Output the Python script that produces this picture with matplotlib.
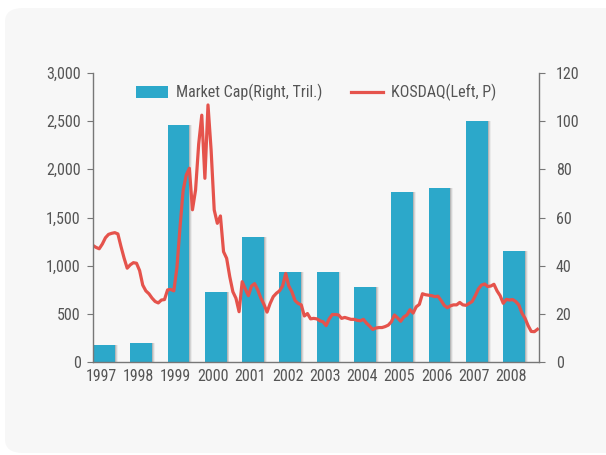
import numpy as np
import matplotlib.pyplot as plt
from matplotlib.patches import FancyBboxPatch
from matplotlib.ticker import FuncFormatter
from matplotlib import font_manager

years = ["1997", "1998", "1999", "2000", "2001", "2002",
         "2003", "2004", "2005", "2006", "2007", "2008"]
# year-end market cap, trillion won (right axis)
market_cap = [7.0, 7.9, 98.5, 29.0, 51.8, 37.4, 37.3, 31.1, 70.7, 72.1, 100.0, 46.0]

# monthly KOSDAQ index, Jan 1997 .. Dec 2008 (left axis)
kosdaq = [
    1210, 1190, 1176, 1225, 1290, 1325, 1336, 1343, 1330, 1200, 1080, 975,      # 1997
    1010, 1032, 1026, 950, 800, 740, 710, 665, 630, 615, 645, 650,             # 1998
    750, 755, 740, 980, 1400, 1780, 1940, 2010, 1580, 1785, 2260, 2560,        # 1999
    1906, 2666, 2200, 1578, 1440, 1516, 1146, 1077, 887, 731, 663, 524,        # 2000
    835, 760, 690, 790, 815, 750, 665, 600, 520, 610, 680, 715,                # 2001
    740, 790, 920, 790, 730, 640, 610, 595, 480, 505, 450, 455,                # 2002
    450, 430, 420, 380, 450, 495, 495, 490, 455, 465, 455, 445,                # 2003
    445, 435, 430, 445, 405, 375, 340, 355, 360, 360, 370, 385,                # 2004
    420, 490, 460, 425, 470, 490, 545, 510, 575, 600, 710, 700,                # 2005
    695, 690, 680, 685, 640, 590, 565, 585, 595, 595, 620, 595,                # 2006
    590, 610, 630, 690, 760, 800, 811, 785, 790, 808, 740, 690,                # 2007
    611, 652, 645, 650, 630, 594, 510, 456, 380, 320, 317, 342,                # 2008
]

BAR = "#2ca8ca"
LINE = "#e5534c"
TXT = "#555555"
SPINE = "#777777"
FS = 11.5

names = {f.name for f in font_manager.fontManager.ttflist}
cond = [n for n in ["Liberation Sans Narrow", "Roboto Condensed", "DejaVu Sans"] if n in names]
plt.rcParams["font.family"] = cond
plt.rcParams["font.stretch"] = "condensed"

fig = plt.figure(figsize=(6.06, 4.55), dpi=100)
fig.patch.set_facecolor("white")
fig.patches.append(FancyBboxPatch((5 / 606, 2 / 455), 640 / 606, 445 / 455,
                                  boxstyle="round,pad=0,rounding_size=0.03",
                                  transform=fig.transFigure, facecolor="#f7f7f7",
                                  edgecolor="none", zorder=-5))

ax2 = fig.add_axes([93 / 606, 1 - 362.3 / 455, 446 / 606, 289.6 / 455])
ax = ax2.twinx()   # left-scale axis on top so the line covers the bars
ax.yaxis.tick_left()
ax.yaxis.set_label_position("left")
ax2.yaxis.tick_right()
ax2.yaxis.set_label_position("right")
ax.patch.set_visible(False)
ax2.patch.set_visible(False)

months = np.arange(len(kosdaq))
slots = np.arange(len(years)) * 12

# bars with a soft shadow on the right
for off, a in [(0.9, 0.08), (0.6, 0.15), (0.3, 0.22)]:
    ax2.bar(slots + off, market_cap, width=7.0, align="edge",
            color="#555555", alpha=a, linewidth=0, zorder=1)
bars = ax2.bar(slots, market_cap, width=7.0, align="edge", color=BAR, linewidth=0,
               zorder=2, label="Market Cap(Right, Tril.)")

line, = ax.plot(months, kosdaq, color=LINE, lw=2.3, solid_joinstyle="round",
                label="KOSDAQ(Left, P)")

ax.set_xlim(0, 143.5)
ax2.set_xlim(0, 143.5)
ax.set_ylim(0, 3000)
ax2.set_ylim(0, 120)
ax.set_yticks(np.arange(0, 3001, 500))
ax2.set_yticks(np.arange(0, 121, 20))
ax.yaxis.set_major_formatter(FuncFormatter(lambda v, p: f"{v:,.0f}"))
ax2.set_xticks(slots + 2.6)
ax2.set_xticklabels(years)

for a in (ax, ax2):
    for s in a.spines.values():
        s.set_color(SPINE)
        s.set_linewidth(1.0)
    a.spines["top"].set_visible(False)
    a.tick_params(colors=SPINE, labelcolor=TXT, labelsize=FS, length=4)
ax2.tick_params(axis="x", length=0, pad=5)
ax.tick_params(axis="y", pad=5)
ax2.tick_params(axis="y", pad=8)
ax.spines["bottom"].set_visible(False)
ax.spines["right"].set_visible(False)
ax2.spines["left"].set_visible(False)

leg = ax.legend([bars, line], [bars.get_label(), line.get_label()],
                loc="upper center", bbox_to_anchor=(0.5, 1.01), ncol=2,
                frameon=False, fontsize=FS, handlelength=2.0,
                columnspacing=1.8, handletextpad=0.5)
for t in leg.get_texts():
    t.set_color(TXT)

fig.savefig("out.png", dpi=100, facecolor=fig.get_facecolor())
